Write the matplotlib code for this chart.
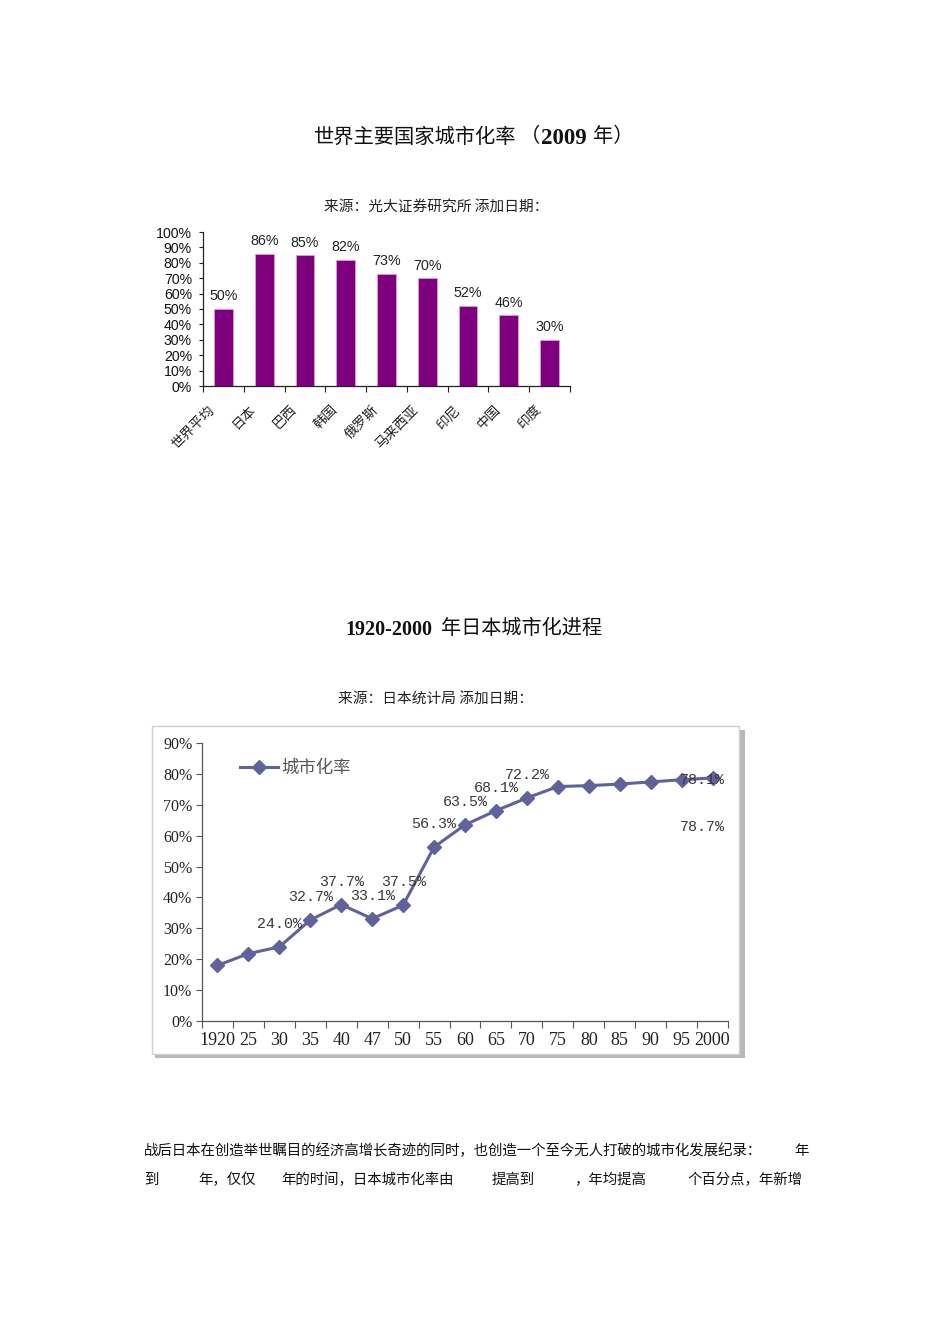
import matplotlib
matplotlib.use("Agg")
import matplotlib.pyplot as plt
from matplotlib.patches import Rectangle
from matplotlib.transforms import ScaledTranslation

plt.rcParams['font.family'] = ['Noto Sans CJK SC', 'DejaVu Sans']

# ---------------- data ----------------
bar_categories = ["世界平均", "日本", "巴西", "韩国", "俄罗斯", "马来西亚", "印尼", "中国", "印度"]
bar_values = [50, 86, 85, 82, 73, 70, 52, 46, 30]

line_years = ["1920", "25", "30", "35", "40", "47", "50", "55", "60", "65", "70",
              "75", "80", "85", "90", "95", "2000"]
line_values = [18.0, 21.8, 24.0, 32.7, 37.7, 33.1, 37.5, 56.3, 63.5, 68.1, 72.2,
               75.9, 76.2, 76.7, 77.4, 78.1, 78.7]
label_values = {"30": 24.0, "35": 32.7, "40": 37.7, "47": 33.1, "50": 37.5, "55": 56.3,
                "60": 63.5, "65": 68.1, "70": 72.2, "95": 78.1, "2000": 78.7}

W, H = 950, 1344
fig = plt.figure(figsize=(W / 100, H / 100), dpi=100)
fig.patch.set_facecolor("white")


def fx(px):
    return px / W


def fy(py):
    return 1 - py / H


# ---------------- page text ----------------
fig.text(fx(314), fy(137), "世界主要国家城市化率", fontsize=14.6, ha="left", va="center", color="#111")
fig.text(fx(540), fy(137), "（", fontsize=14.6, ha="right", va="center", color="#111")
fig.text(fx(541), fy(138), "2009", fontsize=16.5, ha="left", va="center", color="#111",
         family="Liberation Serif", fontweight="bold")
fig.text(fx(593), fy(137), "年）", fontsize=14.6, ha="left", va="center", color="#111")
fig.text(fx(436), fy(207), "来源：光大证券研究所 添加日期：", fontsize=10.6, ha="center", va="center", color="#222")

fig.text(fx(432), fy(630), "1920-2000", fontsize=14.5, ha="right", va="center", color="#111",
         family="Liberation Serif", fontweight="bold")
fig.text(fx(441), fy(629), "年日本城市化进程", fontsize=14.5, ha="left", va="center", color="#111")
fig.text(fx(435), fy(699), "来源：日本统计局 添加日期：", fontsize=10.6, ha="center", va="center", color="#222")

body_kw = dict(fontsize=10.4, ha="left", va="center", color="#111")
fig.text(fx(144), fy(1151), "战后日本在创造举世瞩目的经济高增长奇迹的同时，也创造一个至今无人打破的城市化发展纪录：", **body_kw)
fig.text(fx(794), fy(1151), "年", **body_kw)
fig.text(fx(144), fy(1180), "到", **body_kw)
fig.text(fx(198), fy(1180), "年，仅仅", **body_kw)
fig.text(fx(281), fy(1180), "年的时间，日本城市化率由", **body_kw)
fig.text(fx(492), fy(1180), "提高到", **body_kw)
fig.text(fx(574), fy(1180), "，年均提高", **body_kw)
fig.text(fx(687), fy(1180), "个百分点，年新增", **body_kw)

# ---------------- bar chart ----------------
ax1 = fig.add_axes([fx(203), fy(386), (570 - 203) / W, (386 - 232) / H])
xs = list(range(len(bar_categories)))
ax1.bar(xs, bar_values, width=0.46, color="#7f007f", edgecolor="#d9a0d9", linewidth=0.6)
for x, v in zip(xs, bar_values):
    ax1.annotate(f"{v}%", (x, v), xytext=(0, 4), textcoords="offset points",
                 ha="center", va="bottom", fontsize=10.3, family="Liberation Sans", color="#222")
ax1.set_xlim(-0.5, len(bar_categories) - 0.5)
ax1.set_ylim(0, 100)
ax1.set_yticks(range(0, 101, 10))
ax1.set_yticklabels([f"{v}%" for v in range(0, 101, 10)], family="Liberation Sans", fontsize=10.2, color="#111")
ax1.set_xticks(xs)
ax1.set_xticklabels(bar_categories, rotation=45, ha="right", fontsize=9.8, color="#222")
ax1.set_xticks([i - 0.5 for i in range(len(bar_categories) + 1)], minor=True)
ax1.tick_params(axis="x", which="major", length=0, pad=12)
ax1.tick_params(axis="x", which="minor", length=4, width=0.8, color="#222")
ax1.tick_params(axis="y", length=3, width=0.8, color="#222", pad=5)
for lbl in ax1.get_xticklabels():
    lbl.set_transform(lbl.get_transform() + ScaledTranslation(-6 / 100, 0, fig.dpi_scale_trans))
for s in ["top", "right"]:
    ax1.spines[s].set_visible(False)
for s in ["left", "bottom"]:
    ax1.spines[s].set_color("#222")
    ax1.spines[s].set_linewidth(0.9)
ax1.set_facecolor("none")

# ---------------- line chart panel ----------------
shadow = Rectangle((fx(155), fy(1058)), (742 - 152) / W, (1058 - 730) / H, transform=fig.transFigure,
                   facecolor="#b8b8b8", edgecolor="none", zorder=-3)
panel = Rectangle((fx(152), fy(1054)), (739 - 152) / W, (1054 - 726) / H, transform=fig.transFigure,
                  facecolor="white", edgecolor="#d0d0d0", linewidth=1.0, zorder=-2)
fig.patches.extend([shadow, panel])

ax2 = fig.add_axes([fx(202), fy(1021), (728 - 202) / W, (1021 - 743) / H])
xi = list(range(len(line_years)))
line_color = "#62629a"
ax2.plot(xi, line_values, color=line_color, linewidth=2.2, marker="D", markersize=7,
         markerfacecolor=line_color, markeredgecolor=line_color, label="城市化率", zorder=3)

px2pt = 0.72
offsets = {"95": (21, 0), "2000": (-10, -49)}
for i, yr in enumerate(line_years):
    if yr in label_values:
        dx, dy = offsets.get(yr, (0, 23))
        ax2.annotate(f"{label_values[yr]:.1f}%", (i, line_values[i]),
                     xytext=(dx * px2pt, dy * px2pt), textcoords="offset points",
                     ha="center", va="center", fontsize=10.8, family="Liberation Mono",
                     color="#3a3a3a", zorder=4)

ax2.set_xlim(-0.5, len(line_years) - 0.5)
ax2.set_ylim(0, 90)
ax2.set_yticks(range(0, 91, 10))
ax2.set_yticklabels([f"{v}%" for v in range(0, 91, 10)], family="Liberation Serif", fontsize=11.5, color="#222")
ax2.set_xticks(xi)
ax2.set_xticklabels(line_years, family="Liberation Serif", fontsize=13, color="#222")
ax2.set_xticks([i - 0.5 for i in range(len(line_years) + 1)], minor=True)
ax2.tick_params(axis="x", which="major", length=0, pad=8)
ax2.tick_params(axis="x", which="minor", length=5, width=0.8, color="#555")
ax2.tick_params(axis="y", length=4, width=0.8, color="#555", pad=3)
for s in ["top", "right"]:
    ax2.spines[s].set_visible(False)
for s in ["left", "bottom"]:
    ax2.spines[s].set_color("#555")
    ax2.spines[s].set_linewidth(0.9)
ax2.set_facecolor("none")
leg = ax2.legend(loc="center left", bbox_to_anchor=((240 - 202) / 526, (1021 - 768) / 278),
                 frameon=False, fontsize=12.5, handlelength=2.2, handletextpad=0.2,
                 borderpad=0, borderaxespad=0)
for t in leg.get_texts():
    t.set_color("#555")

fig.savefig("out.png", dpi=100, facecolor="white")
